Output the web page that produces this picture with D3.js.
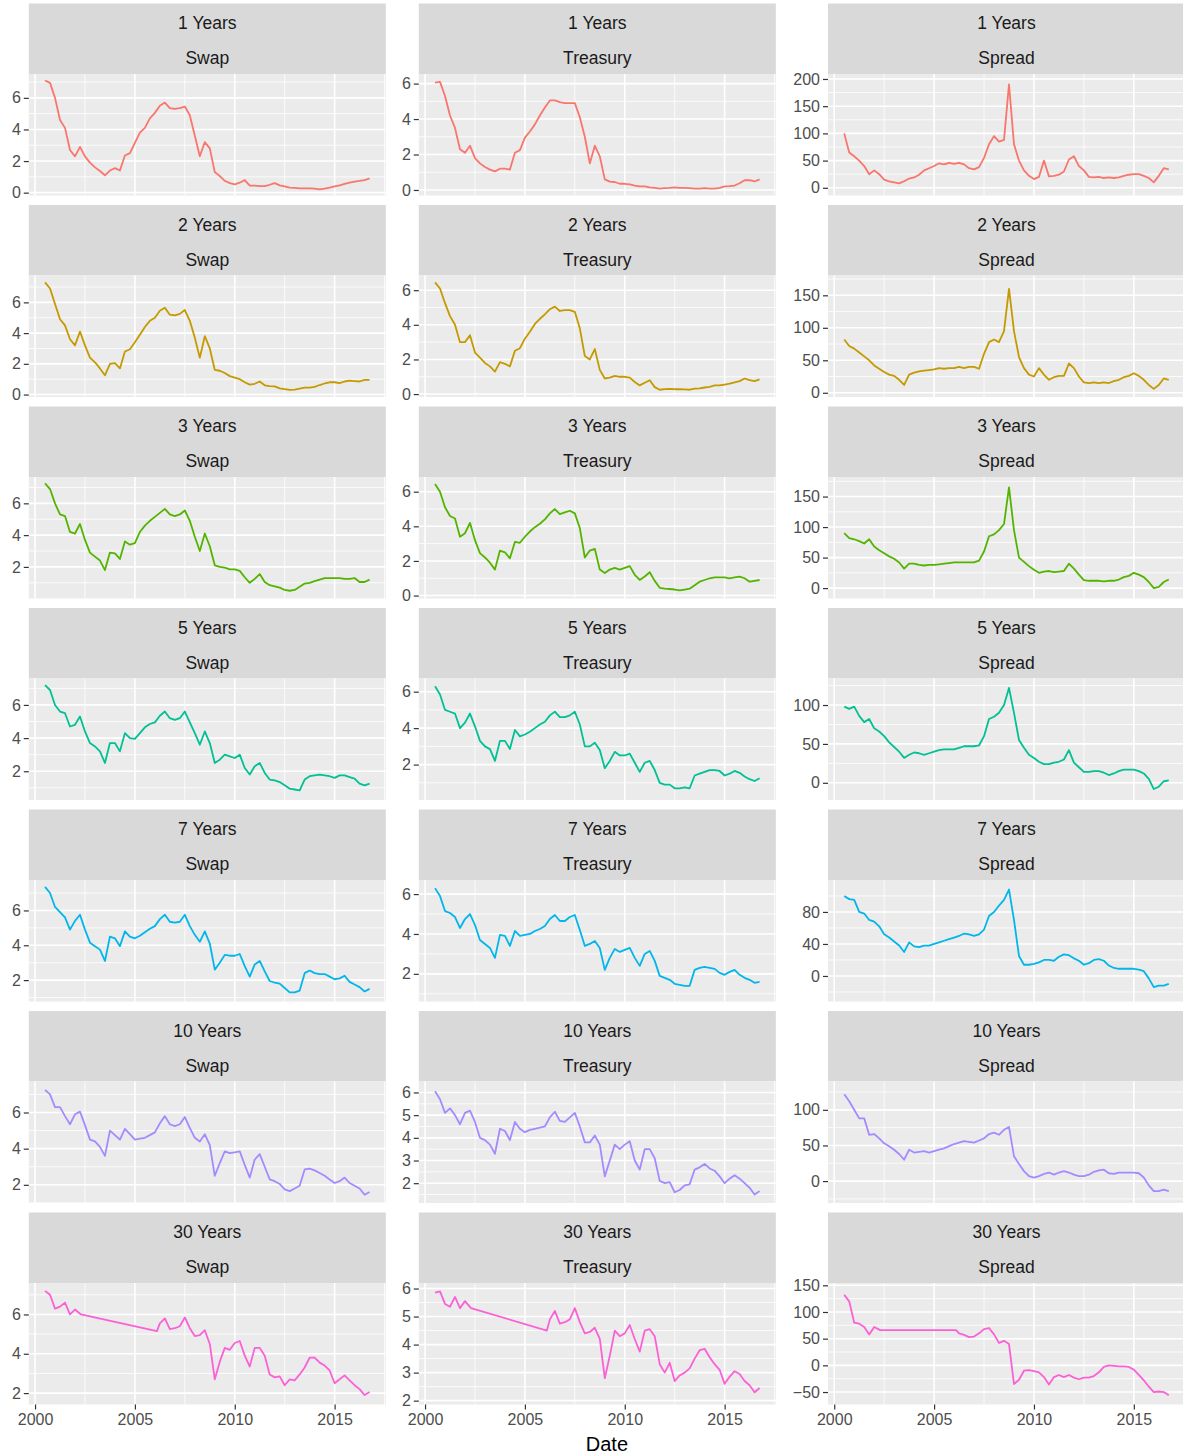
<!DOCTYPE html>
<html>
<head>
<meta charset="utf-8">
<script src="https://cdn.jsdelivr.net/npm/d3@7"></script>
<style>
  body { margin: 0; background: #ffffff; }
  svg { font-family: "Liberation Sans", Arial, sans-serif; }
</style>
</head>
<body>
<div id="chart"></div>
<script>
// Categories
var tenors = ["1 Years", "2 Years", "3 Years", "5 Years", "7 Years", "10 Years", "30 Years"];
var kinds = ["Swap", "Treasury", "Spread"];
var xTicks = [2000, 2005, 2010, 2015];

// Dates (decimal years), quarterly readings of the daily series
var dates = [2000.5, 2000.75,
  2001, 2001.25, 2001.5, 2001.75, 2002, 2002.25, 2002.5, 2002.75,
  2003, 2003.25, 2003.5, 2003.75, 2004, 2004.25, 2004.5, 2004.75,
  2005, 2005.25, 2005.5, 2005.75, 2006, 2006.25, 2006.5, 2006.75,
  2007, 2007.25, 2007.5, 2007.75, 2008, 2008.25, 2008.5, 2008.75,
  2009, 2009.25, 2009.5, 2009.75, 2010, 2010.25, 2010.5, 2010.75,
  2011, 2011.25, 2011.5, 2011.75, 2012, 2012.25, 2012.5, 2012.75,
  2013, 2013.25, 2013.5, 2013.75, 2014, 2014.25, 2014.5, 2014.75,
  2015, 2015.25, 2015.5, 2015.75, 2016, 2016.25, 2016.5, 2016.75];

// 30 year series has no data between 2002 and 2006
var dates30 = [2000.5, 2000.75, 2001, 2001.25, 2001.5, 2001.75, 2002, 2002.3,
  2006.1, 2006.25, 2006.5, 2006.75,
  2007, 2007.25, 2007.5, 2007.75, 2008, 2008.25, 2008.5, 2008.75,
  2009, 2009.25, 2009.5, 2009.75, 2010, 2010.25, 2010.5, 2010.75,
  2011, 2011.25, 2011.5, 2011.75, 2012, 2012.25, 2012.5, 2012.75,
  2013, 2013.25, 2013.5, 2013.75, 2014, 2014.25, 2014.5, 2014.75,
  2015, 2015.25, 2015.5, 2015.75, 2016, 2016.25, 2016.5, 2016.75];

// Series values (percent for Swap / Treasury, basis points for Spread)
var swap1 = [7.1,6.95, 6.0,4.6,4.1,2.7, 2.3,2.9,2.3,1.9, 1.6,1.37,1.1,1.4, 1.55,1.4,2.35,2.5, 3.15,3.8,4.1,4.7, 5.05,5.5,5.7,5.35, 5.3,5.35,5.45,4.9, 3.6,2.3,3.2,2.8, 1.3,1.05,0.75,0.6, 0.53,0.63,0.8,0.45, 0.45,0.42,0.42,0.5, 0.6,0.46,0.4,0.32, 0.3,0.27,0.27,0.27, 0.25,0.21,0.25,0.32, 0.4,0.46,0.55,0.63, 0.7,0.74,0.8,0.9];
var treas1 = [6.05,6.1, 5.3,4.2,3.5,2.3, 2.1,2.5,1.8,1.5, 1.3,1.15,1.05,1.2, 1.2,1.15,2.1,2.25, 2.95,3.3,3.7,4.2, 4.65,5.05,5.05,4.95, 4.9,4.9,4.9,4.1, 3.0,1.5,2.5,1.9, 0.6,0.47,0.45,0.35, 0.35,0.32,0.25,0.2, 0.2,0.15,0.12,0.08, 0.1,0.12,0.15,0.12, 0.12,0.1,0.08,0.08, 0.1,0.08,0.08,0.12, 0.2,0.22,0.25,0.38, 0.55,0.55,0.48,0.6];
var spread1 = [100,65, 58,50,40,25, 32,25,15,12, 10,8,12,17, 19,24,32,36, 40,45,43,46, 44,46,43,36, 34,38,55,80, 95,85,88,190, 80,50,32,22, 16,20,50,21, 22,24,30,52, 58,40,32,20, 19,20,18,19, 18,19,22,24, 25,25,22,18, 10,22,36,34];

var swap2 = [7.3,6.9, 5.9,4.9,4.5,3.6, 3.2,4.1,3.2,2.4, 2.1,1.7,1.25,2.0, 2.05,1.7,2.8,2.95, 3.4,3.9,4.4,4.8, 5.0,5.45,5.65,5.2, 5.15,5.25,5.5,4.8, 3.7,2.4,3.8,3.0, 1.6,1.55,1.4,1.2, 1.1,1.0,0.8,0.65, 0.7,0.85,0.6,0.55, 0.53,0.4,0.35,0.3, 0.32,0.38,0.45,0.45, 0.5,0.62,0.72,0.8, 0.8,0.75,0.85,0.9, 0.88,0.85,0.95,0.95];
var treas2 = [6.45,6.1, 5.25,4.5,4.0,3.0, 3.0,3.4,2.4,2.1, 1.8,1.6,1.3,1.85, 1.75,1.6,2.5,2.65, 3.2,3.6,4.05,4.35, 4.6,4.9,5.05,4.8, 4.85,4.85,4.75,3.8, 2.2,2.0,2.6,1.4, 0.9,0.95,1.05,1.0, 1.0,0.95,0.7,0.5, 0.65,0.8,0.4,0.25, 0.28,0.3,0.28,0.28, 0.27,0.25,0.32,0.33, 0.38,0.42,0.5,0.5, 0.55,0.6,0.68,0.75, 0.9,0.8,0.75,0.85];
var spread2 = [82,72, 68,62,56,50, 42,37,32,28, 26,20,12,28, 31,33,34,35, 36,38,37,38, 38,40,38,40, 40,37,60,78, 82,78,95,160, 95,55,38,28, 25,38,28,20, 24,26,26,45, 38,25,16,15, 16,15,16,15, 18,20,24,26, 30,26,20,12, 6,12,22,20];

var swap3 = [7.25,6.9, 6.0,5.3,5.2,4.2, 4.1,4.7,3.7,2.9, 2.65,2.4,1.8,2.9, 2.85,2.5,3.6,3.4, 3.5,4.2,4.6,4.9, 5.15,5.4,5.65,5.3, 5.2,5.3,5.55,4.9, 3.9,3.0,4.1,3.3, 2.1,2.0,1.95,1.85, 1.85,1.75,1.35,1.0, 1.25,1.55,1.05,0.85, 0.78,0.7,0.55,0.5, 0.55,0.75,0.95,1.0, 1.1,1.2,1.3,1.3, 1.3,1.3,1.25,1.25, 1.3,1.05,1.05,1.2];
var treas3 = [6.45,6.0, 5.1,4.6,4.45,3.4, 3.6,4.2,3.2,2.45, 2.2,1.9,1.5,2.6, 2.5,2.15,3.1,3.05, 3.4,3.7,3.95,4.15, 4.4,4.75,5.0,4.7, 4.8,4.9,4.75,3.9, 2.2,2.6,2.7,1.5, 1.3,1.5,1.6,1.5, 1.6,1.7,1.2,0.9, 1.1,1.35,0.85,0.45, 0.4,0.38,0.35,0.3, 0.35,0.4,0.6,0.8, 0.9,1.0,1.05,1.05, 1.05,1.0,1.05,1.1, 1.0,0.8,0.85,0.9];
var spread3 = [90,82, 80,77,73,80, 68,62,57,52, 48,42,32,40, 40,38,37,38, 38,39,40,41, 42,42,42,42, 42,45,60,85, 88,95,105,165, 95,50,43,36, 30,25,27,28, 26,27,28,40, 32,22,13,12, 12,12,11,12, 12,14,18,20, 25,22,18,10, 0,2,10,14];

var swap5 = [7.2,6.9, 6.0,5.6,5.5,4.7, 4.8,5.3,4.4,3.7, 3.5,3.2,2.5,3.7, 3.7,3.2,4.3,4.0, 3.95,4.3,4.65,4.85, 4.95,5.35,5.6,5.2, 5.1,5.2,5.6,4.95, 4.3,3.6,4.4,3.7, 2.5,2.7,3.0,2.9, 2.8,3.0,2.2,1.8, 2.3,2.5,1.9,1.5, 1.45,1.35,1.15,0.95, 0.9,0.85,1.5,1.7, 1.75,1.8,1.75,1.7, 1.6,1.75,1.75,1.65, 1.55,1.25,1.15,1.25];
var treas5 = [6.3,5.85, 5.0,4.9,4.8,4.0, 4.3,4.8,4.1,3.3, 3.0,2.85,2.2,3.3, 3.3,2.85,3.9,3.55, 3.65,3.8,4.0,4.2, 4.35,4.7,4.9,4.6, 4.6,4.7,4.9,4.2, 3.0,3.0,3.2,2.8, 1.8,2.2,2.7,2.5, 2.5,2.6,2.1,1.6, 2.1,2.2,1.7,1.0, 0.9,0.9,0.7,0.7, 0.75,0.7,1.4,1.5, 1.6,1.7,1.7,1.65, 1.4,1.5,1.65,1.55, 1.35,1.2,1.1,1.25];
var spread5 = [98,95, 98,86,78,82, 70,66,60,52, 46,40,32,36, 39,38,36,38, 40,42,43,43, 43,45,47,47, 47,48,60,82, 85,90,100,122, 90,55,45,36, 32,27,24,24, 26,27,30,42, 26,20,14,14, 15,15,13,10, 12,15,17,17, 17,15,12,5, -8,-5,2,3];

var swap7 = [7.35,7.0, 6.2,5.9,5.6,4.9, 5.4,5.75,4.9,4.15, 3.95,3.75,3.1,4.5, 4.4,3.95,4.8,4.5, 4.4,4.55,4.75,4.95, 5.1,5.5,5.75,5.35, 5.3,5.35,5.75,5.1, 4.6,4.2,4.8,4.1, 2.6,3.0,3.45,3.4, 3.4,3.5,2.8,2.2, 2.9,3.1,2.5,1.95, 1.85,1.8,1.55,1.3, 1.3,1.4,2.4,2.55, 2.4,2.35,2.35,2.2, 2.05,2.1,2.25,1.9, 1.75,1.6,1.35,1.5];
var treas7 = [6.3,5.9, 5.15,5.05,4.85,4.3, 4.75,5.0,4.45,3.7, 3.5,3.3,2.8,3.95, 3.9,3.4,4.15,3.9, 3.95,4.0,4.15,4.25, 4.4,4.75,4.95,4.65, 4.65,4.85,4.95,4.2, 3.4,3.5,3.65,3.3, 2.2,2.8,3.25,3.1, 3.2,3.3,2.8,2.4, 3.0,3.15,2.65,1.9, 1.8,1.7,1.5,1.45, 1.4,1.4,2.2,2.3, 2.35,2.3,2.25,2.05, 1.95,2.1,2.2,1.95, 1.8,1.7,1.55,1.6];
var spread7 = [100,96, 95,80,78,70, 68,62,52,48, 43,38,30,42, 37,36,38,38, 40,42,44,46, 48,50,53,52, 50,52,58,75, 80,88,95,108, 70,25,14,14, 15,17,20,20, 19,24,27,26, 22,19,14,16, 20,21,19,13, 10,9,9,9, 9,8,6,-3, -14,-12,-12,-10];

var swap10 = [7.25,7.0, 6.3,6.3,5.8,5.35, 5.9,6.05,5.3,4.5, 4.4,4.1,3.6,5.0, 4.75,4.5,5.1,4.8, 4.5,4.55,4.6,4.75, 4.9,5.4,5.8,5.35, 5.25,5.35,5.75,5.15, 4.6,4.4,4.8,4.2, 2.5,3.2,3.85,3.75, 3.8,3.85,3.1,2.4, 3.4,3.7,3.0,2.3, 2.2,2.05,1.75,1.65, 1.8,1.95,2.85,2.9, 2.8,2.65,2.5,2.3, 2.1,2.2,2.4,2.1, 1.95,1.8,1.45,1.6];
var treas10 = [6.05,5.7, 5.1,5.3,5.0,4.6, 5.1,5.2,4.7,4.0, 3.9,3.7,3.3,4.4, 4.3,3.9,4.7,4.4, 4.25,4.35,4.4,4.45, 4.5,4.9,5.15,4.75, 4.7,4.9,5.1,4.5, 3.8,3.8,4.1,3.7, 2.3,3.0,3.7,3.5, 3.7,3.85,3.0,2.6, 3.5,3.5,3.1,2.1, 2.0,2.05,1.6,1.7, 1.9,1.95,2.6,2.7, 2.85,2.65,2.55,2.3, 2.0,2.2,2.35,2.2, 2.0,1.8,1.5,1.65];
var spread10 = [122,112, 100,88,88,65, 66,60,53,49, 44,38,30,44, 40,41,42,40, 42,44,46,49, 52,54,56,55, 54,57,60,66, 68,65,72,76, 35,24,14,7, 5,7,10,12, 9,12,14,12, 9,7,7,9, 13,15,16,11, 10,12,12,12, 12,11,5,-6, -14,-14,-12,-14];

var swap30 = [7.2,7.0,6.3,6.4,6.6,6.0,6.25,6.0, 5.15, 5.55,5.8,5.25, 5.3,5.4,5.85,5.3, 4.9,4.95,5.2,4.5, 2.7,3.6,4.3,4.2, 4.55,4.65,3.9,3.35, 4.3,4.3,3.9,2.95, 2.8,2.85,2.4,2.7, 2.65,2.95,3.3,3.8, 3.8,3.55,3.4,3.15, 2.5,2.7,2.9,2.65, 2.4,2.2,1.9,2.05];
var treas30 = [5.85,5.9,5.45,5.35,5.7,5.3,5.55,5.3, 4.5, 4.9,5.2,4.75, 4.8,4.9,5.3,4.8, 4.4,4.45,4.6,4.2, 2.8,3.6,4.5,4.3, 4.4,4.7,4.2,3.75, 4.5,4.55,4.3,3.3, 3.0,3.35,2.7,2.9, 3.0,3.15,3.5,3.8, 3.85,3.55,3.3,3.1, 2.6,2.85,3.05,2.95, 2.7,2.55,2.3,2.45];
var spread30 = [132,120,80,78,72,58,72,66, 66, 60,57,53, 54,60,68,70, 58,42,46,40, -35,-27,-10,-9, -11,-13,-22,-36, -22,-18,-22,-18, -23,-26,-23,-23, -20,-13,-3,0, -1,-2,-2,-3, -8,-18,-28,-40, -50,-49,-50,-56];

// Lowest / highest daily value seen in each panel (same order as tenors)
var swapRange = [[0.17, 7.16], [0.2, 7.39], [0.36, 7.31], [0.6, 7.26], [1.09, 7.43], [1.3, 7.41], [1.7, 7.32]];
var treasRange = [[0, 6.23], [0.15, 6.53], [0.15, 6.53], [0.36, 6.42], [0.89, 6.43], [1.37, 6.24], [2.06, 6.0]];
var spreadRange = [[-4, 199], [2, 172], [-8, 173], [-15, 127], [-25, 113], [-23, 132], [-63, 144]];

// Y tick labels per panel
var swapTicks = [[0, 2, 4, 6], [0, 2, 4, 6], [2, 4, 6], [2, 4, 6], [2, 4, 6], [2, 4, 6], [2, 4, 6]];
var treasTicks = [[0, 2, 4, 6], [0, 2, 4, 6], [0, 2, 4, 6], [2, 4, 6], [2, 4, 6], [2, 3, 4, 5, 6], [2, 3, 4, 5, 6]];
var spreadTicks = [[0, 50, 100, 150, 200], [0, 50, 100, 150], [0, 50, 100, 150], [0, 50, 100], [0, 40, 80], [0, 50, 100], [-50, 0, 50, 100, 150]];

var colors = ["#F8766D", "#C49A00", "#53B400", "#00C094", "#00B6EB", "#A58AFF", "#FB61D7"];

// Build the panel table
var swaps = [swap1, swap2, swap3, swap5, swap7, swap10, swap30];
var treasuries = [treas1, treas2, treas3, treas5, treas7, treas10, treas30];
var spreads = [spread1, spread2, spread3, spread5, spread7, spread10, spread30];

var panels = [];
tenors.forEach(function(tenor, i) {
  var x = (i === 6) ? dates30 : dates;
  [swaps[i], treasuries[i], spreads[i]].forEach(function(vals, j) {
    panels.push({
      row: i,
      col: j,
      tenor: tenor,
      kind: kinds[j],
      color: colors[i],
      range: [swapRange, treasRange, spreadRange][j][i],
      ticks: [swapTicks, treasTicks, spreadTicks][j][i],
      values: vals.map(function(v, k) { return {date: x[k], value: v}; })
    });
  });
});

var svgWidth = 1183;
var svgHeight = 1454;

var colLeft = [28.8, 418.8, 828];
var panelWidth = 357;
var rowTop = 3.5;
var rowStep = 201.5;
var stripHeight = 70.5;
var panelHeight = 121.5;

var svg = d3.select("#chart")
  .append("svg")
  .attr("width", svgWidth)
  .attr("height", svgHeight);

// Shared x scale (ggplot style 5% expansion)
var xExt = d3.extent(dates);
var xPad = (xExt[1] - xExt[0]) * 0.05;
var xScale = d3.scaleLinear()
  .domain([xExt[0] - xPad, xExt[1] + xPad])
  .range([0, panelWidth]);

var xMinor = [2002.5, 2007.5, 2012.5, 2017.5].filter(function(d) {
  return d >= xScale.domain()[0] && d <= xScale.domain()[1];
});

panels.forEach(function(p) {
  var top = rowTop + p.row * rowStep;
  var g = svg.append("g")
    .attr("transform", `translate(${colLeft[p.col]}, ${top})`);

  // Strip
  g.append("rect")
    .attr("width", panelWidth)
    .attr("height", stripHeight)
    .attr("fill", "#D9D9D9");

  g.append("text")
    .attr("x", panelWidth / 2)
    .attr("y", 19.5)
    .attr("dy", "0.35em")
    .attr("text-anchor", "middle")
    .attr("font-size", "17.5px")
    .attr("fill", "#1A1A1A")
    .text(p.tenor);

  g.append("text")
    .attr("x", panelWidth / 2)
    .attr("y", 54.5)
    .attr("dy", "0.35em")
    .attr("text-anchor", "middle")
    .attr("font-size", "17.5px")
    .attr("fill", "#1A1A1A")
    .text(p.kind);

  var chartGroup = g.append("g")
    .attr("transform", `translate(0, ${stripHeight})`);

  // Y scale: data range with 5% expansion
  var lo = Math.min(p.range[0], d3.min(p.values, d => d.value));
  var hi = Math.max(p.range[1], d3.max(p.values, d => d.value));
  var yPad = (hi - lo) * 0.05;
  var yScale = d3.scaleLinear()
    .domain([lo - yPad, hi + yPad])
    .range([panelHeight, 0]);

  chartGroup.append("rect")
    .attr("width", panelWidth)
    .attr("height", panelHeight)
    .attr("fill", "#EBEBEB");

  // Minor grid
  var step = p.ticks[1] - p.ticks[0];
  var yMinor = [];
  p.ticks.forEach(function(t) { yMinor.push(t - step / 2); });
  yMinor.push(p.ticks[p.ticks.length - 1] + step / 2);
  yMinor = yMinor.filter(function(d) {
    return d >= yScale.domain()[0] && d <= yScale.domain()[1];
  });

  chartGroup.selectAll(".minor-y")
    .data(yMinor)
    .enter()
    .append("line")
    .attr("x1", 0)
    .attr("x2", panelWidth)
    .attr("y1", d => yScale(d))
    .attr("y2", d => yScale(d))
    .attr("stroke", "#ffffff")
    .attr("stroke-width", 0.8);

  chartGroup.selectAll(".minor-x")
    .data(xMinor)
    .enter()
    .append("line")
    .attr("x1", d => xScale(d))
    .attr("x2", d => xScale(d))
    .attr("y1", 0)
    .attr("y2", panelHeight)
    .attr("stroke", "#ffffff")
    .attr("stroke-width", 0.8);

  // Major grid
  chartGroup.selectAll(".major-y")
    .data(p.ticks)
    .enter()
    .append("line")
    .attr("x1", 0)
    .attr("x2", panelWidth)
    .attr("y1", d => yScale(d))
    .attr("y2", d => yScale(d))
    .attr("stroke", "#ffffff")
    .attr("stroke-width", 1.6);

  chartGroup.selectAll(".major-x")
    .data(xTicks)
    .enter()
    .append("line")
    .attr("x1", d => xScale(d))
    .attr("x2", d => xScale(d))
    .attr("y1", 0)
    .attr("y2", panelHeight)
    .attr("stroke", "#ffffff")
    .attr("stroke-width", 1.6);

  // Line
  var line = d3.line()
    .x(d => xScale(d.date))
    .y(d => yScale(d.value));

  chartGroup.append("path")
    .datum(p.values)
    .attr("d", line)
    .attr("fill", "none")
    .attr("stroke", p.color)
    .attr("stroke-width", 1.8)
    .attr("stroke-linejoin", "round");

  // Y axis
  var yAxis = d3.axisLeft(yScale)
    .tickValues(p.ticks)
    .tickFormat(d3.format("d"))
    .tickSize(5)
    .tickPadding(3);

  var yg = chartGroup.append("g").call(yAxis);
  yg.select(".domain").remove();
  yg.selectAll(".tick line").attr("stroke", "#333333").attr("stroke-width", 1.2);
  yg.selectAll(".tick text")
    .attr("fill", "#4D4D4D")
    .attr("font-size", "16px")
    .attr("font-family", "Liberation Sans, Arial, sans-serif");

  // X axis on the bottom row only
  if (p.row === tenors.length - 1) {
    var xAxis = d3.axisBottom(xScale)
      .tickValues(xTicks)
      .tickFormat(d3.format("d"))
      .tickSize(5)
      .tickPadding(4);

    var xg = chartGroup.append("g")
      .attr("transform", `translate(0, ${panelHeight})`)
      .call(xAxis);
    xg.select(".domain").remove();
    xg.selectAll(".tick line").attr("stroke", "#333333").attr("stroke-width", 1.2);
    xg.selectAll(".tick text")
      .attr("fill", "#4D4D4D")
      .attr("font-size", "16px")
      .attr("font-family", "Liberation Sans, Arial, sans-serif");
  }
});

// Axis title
svg.append("text")
  .attr("x", (colLeft[0] + colLeft[2] + panelWidth) / 2)
  .attr("y", 1444)
  .attr("dy", "0.35em")
  .attr("text-anchor", "middle")
  .attr("font-size", "20px")
  .attr("fill", "#000000")
  .text("Date");
</script>
</body>
</html>
